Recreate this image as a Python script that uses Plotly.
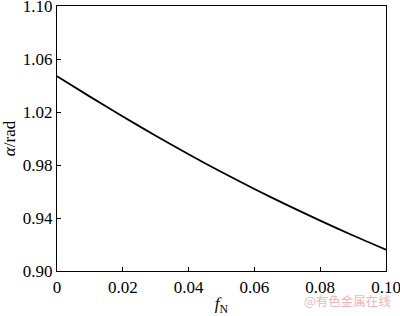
import plotly.graph_objects as go

f_N = [0.0, 0.01, 0.02, 0.03, 0.04, 0.05, 0.06, 0.07, 0.08, 0.09, 0.10]
alpha = [1.047, 1.0316, 1.0166, 1.0021, 0.9881, 0.9747, 0.9619, 0.9497, 0.9380, 0.9268, 0.9161]

x_ticks = [0, 0.02, 0.04, 0.06, 0.08, 0.10]
x_tick_labels = ["0", "0.02", "0.04", "0.06", "0.08", "0.10"]
y_ticks = [0.90, 0.94, 0.98, 1.02, 1.06, 1.10]
y_tick_labels = ["0.90", "0.94", "0.98", "1.02", "1.06", "1.10"]

FONT = "Liberation Serif, Times New Roman, serif"

fig = go.Figure()
fig.add_trace(go.Scatter(x=f_N, y=alpha, mode="lines",
                         line=dict(color="black", width=1.8, shape="spline", smoothing=0.8),
                         showlegend=False))

axis_common = dict(showline=True, linecolor="black", linewidth=1.2, mirror=True,
                   ticks="inside", ticklen=4, tickcolor="black", tickwidth=1,
                   showgrid=False, zeroline=False, automargin=False,
                   ticklabeloverflow="allow",
                   tickfont=dict(family=FONT, size=17, color="black"))

fig.update_layout(
    width=400, height=316,
    margin=dict(l=57, r=14, t=6, b=45),
    paper_bgcolor="white", plot_bgcolor="white",
    font=dict(family=FONT, color="black"),
    xaxis=dict(range=[0, 0.10], tickvals=x_ticks, ticktext=x_tick_labels,
               title=dict(text="<i>f</i><sub>N</sub>", font=dict(family=FONT, size=17), standoff=2),
               **axis_common),
    yaxis=dict(range=[0.90, 1.10], tickvals=y_ticks, ticktext=y_tick_labels,
               title=dict(text="<i>α</i>/rad", font=dict(family=FONT, size=17), standoff=2),
               **axis_common),
)

fig.add_annotation(text="@有色金属在线", xref="paper", yref="paper",
                   x=1.02, y=-0.11, xanchor="right", yanchor="middle", showarrow=False,
                   font=dict(family="Noto Sans CJK SC", size=12.5, color="#f2b6b6"))

fig.write_html("out.html")
